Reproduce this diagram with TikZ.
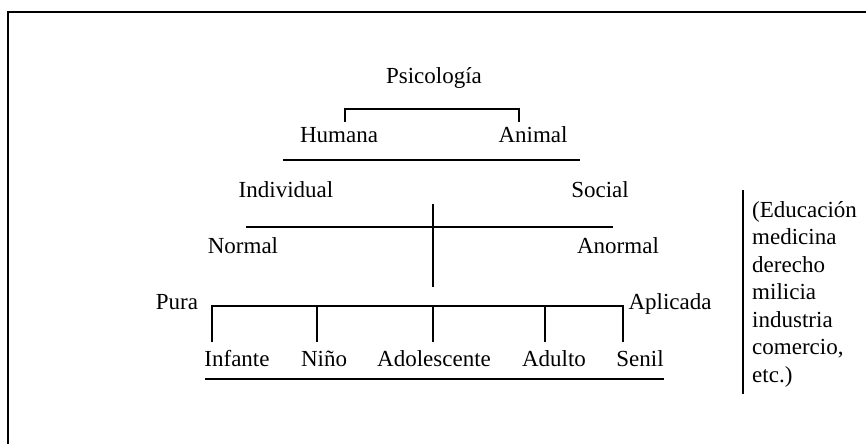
\documentclass[tikz,border=0pt]{standalone}
\usepackage{fontspec}
\setmainfont{Liberation Serif}
\begin{document}
\begin{tikzpicture}[x=1pt,y=-1pt,
  txt/.style={font=\fontsize{23}{27}\selectfont, inner sep=0pt, anchor=base},
  rtxt/.style={font=\fontsize{23}{27}\selectfont, inner sep=0pt, anchor=base west},
  ln/.style={line width=2pt}]
\useasboundingbox (0,0) rectangle (866,444);
% frame (open at right and bottom)
\coordinate (fbl) at (8,444);
\coordinate (ftl) at (8,12);
\coordinate (ftr) at (866,12);
\draw[ln] (fbl) -- (ftl) -- (ftr);

% texts
\node[txt] (psi) at (434,83) {Psicología};
\node[txt] (hum) at (339,142) {Humana};
\node[txt] (ani) at (533,142) {Animal};
\node[txt] (ind) at (286,197) {Individual};
\node[txt] (soc) at (600,197) {Social};
\node[txt] (nor) at (243,253) {Normal};
\node[txt] (anor) at (618,253) {Anormal};
\node[txt] (pura) at (177,309) {Pura};
\node[txt] (apl) at (670,309) {Aplicada};
\node[txt] (inf) at (237,366) {Infante};
\node[txt] (nin) at (324,366) {Niño};
\node[txt] (ado) at (434,366) {Adolescente};
\node[txt] (adu) at (554,366) {Adulto};
\node[txt] (sen) at (640,366) {Senil};

\node[rtxt] (r1) at (752,217) {(Educación};
\node[rtxt] (r2) at (752,244.5) {medicina};
\node[rtxt] (r3) at (752,272) {derecho};
\node[rtxt] (r4) at (752,299.5) {milicia};
\node[rtxt] (r5) at (752,327) {industria};
\node[rtxt] (r6) at (752,354.5) {comercio,};
\node[rtxt] (r7) at (752,382) {etc.)};

% bracket under Psicologia
\coordinate (b1l) at (345,122);
\coordinate (b1r) at (519,122);
\draw[ln] (b1l) -- (345,109) -- (519,109) -- (b1r);

% horizontal lines
\coordinate (h1l) at (283,160); \coordinate (h1r) at (580,160);
\draw[ln] (h1l) -- (h1r);
\coordinate (h2l) at (246,227); \coordinate (h2r) at (613,227);
\draw[ln] (h2l) -- (h2r);
\coordinate (vt) at (433,204); \coordinate (vb) at (433,287);
\draw[ln] (vt) -- (vb);

% lower bracket
\coordinate (t1) at (212,342); \coordinate (t2) at (317,342);
\coordinate (t3) at (433,342); \coordinate (t4) at (545,342);
\coordinate (t5) at (623,342);
\draw[ln] (t1) -- (212,306) -- (623,306) -- (t5);
\draw[ln] (t2) -- (317,306);
\draw[ln] (t3) -- (433,306);
\draw[ln] (t4) -- (545,306);

% bottom line
\coordinate (h3l) at (205,379); \coordinate (h3r) at (664,379);
\draw[ln] (h3l) -- (h3r);

% right vertical bar
\coordinate (rt) at (743,190); \coordinate (rb) at (743,394);
\draw[ln] (rt) -- (rb);
\end{tikzpicture}
\end{document}
